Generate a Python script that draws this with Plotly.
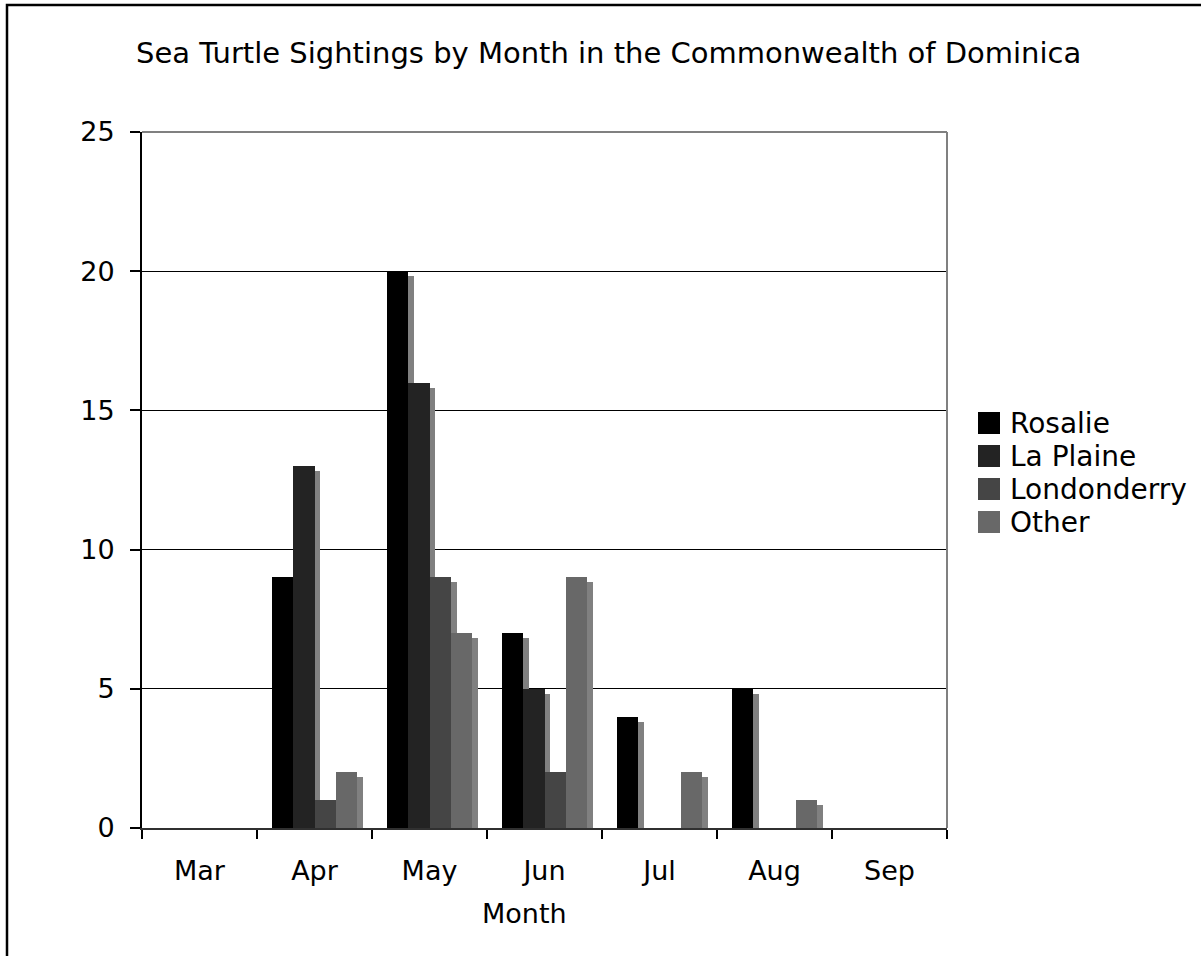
import plotly.graph_objects as go

# ── data ──────────────────────────────────────────────────────────────
MONTHS = ["Mar", "Apr", "May", "Jun", "Jul", "Aug", "Sep"]
SERIES = ["Rosalie", "La Plaine", "Londonderry", "Other"]
ROSALIE = [0, 9, 20, 7, 4, 5, 0]
LA_PLAINE = [0, 13, 16, 5, 0, 0, 0]
LONDONDERRY = [0, 1, 9, 2, 0, 0, 0]
OTHER = [0, 2, 7, 9, 2, 1, 0]
Y_TICKS = [0, 5, 10, 15, 20, 25]

# ── style ─────────────────────────────────────────────────────────────
COLORS = ["#000000", "#232323", "#454545", "#686868"]
SHADOW = "#808080"
FONT = "DejaVu Sans, Verdana, sans-serif"
W, H = 1201, 956
L, R, T, B = 142, 947, 132, 828          # plot area in pixels

BAR_W = 0.185                              # category units
GROUP_LEFT = -0.37
SHADOW_DX = 0.052
SHADOW_DROP = 0.18                         # y units


def px_x(px):
    return (px - L) / (R - L)


def px_y(py):
    return (B - py) / (B - T)


values = [ROSALIE, LA_PLAINE, LONDONDERRY, OTHER]
fig = go.Figure()

# shadows first so they sit behind every bar
for k, (name, vals) in enumerate(zip(SERIES, values)):
    fig.add_trace(go.Bar(
        x=MONTHS, y=vals, base=-SHADOW_DROP,
        width=BAR_W, offset=GROUP_LEFT + k * BAR_W + SHADOW_DX,
        marker=dict(color=SHADOW, line=dict(width=0)),
        showlegend=False, hoverinfo="skip",
    ))

for k, (name, vals) in enumerate(zip(SERIES, values)):
    fig.add_trace(go.Bar(
        x=MONTHS, y=vals, name=name,
        width=BAR_W, offset=GROUP_LEFT + k * BAR_W,
        marker=dict(color=COLORS[k], line=dict(width=0)),
        showlegend=False,
    ))

shapes = [
    # outer frame (runs off the right and bottom of the picture)
    dict(type="rect", xref="paper", yref="paper",
         x0=px_x(7), x1=px_x(W + 40), y0=px_y(H + 40), y1=px_y(5),
         line=dict(color="black", width=2.5), fillcolor="rgba(0,0,0,0)", layer="below"),
    # grey top and right edges of the plot area
    dict(type="line", xref="paper", yref="paper", x0=0, x1=1, y0=1, y1=1,
         line=dict(color=SHADOW, width=2)),
    dict(type="line", xref="paper", yref="paper", x0=1, x1=1, y0=0, y1=1,
         line=dict(color=SHADOW, width=2)),
]

annotations = [
    dict(text="Sea Turtle Sightings by Month in the Commonwealth of Dominica",
         xref="paper", yref="paper", x=px_x(608), y=px_y(53),
         xanchor="center", yanchor="middle",
         showarrow=False, font=dict(size=29, color="black")),
    dict(text="Month", xref="paper", yref="paper", x=px_x(524), y=px_y(913),
         xanchor="center", yanchor="middle",
         showarrow=False, font=dict(size=27, color="black")),
]

# hand-drawn legend with big square keys
for k, name in enumerate(SERIES):
    cy = 423 + k * 33
    shapes.append(dict(type="rect", xref="paper", yref="paper",
                       x0=px_x(978), x1=px_x(1000), y0=px_y(cy + 11), y1=px_y(cy - 11),
                       fillcolor=COLORS[k], line=dict(width=0)))
    annotations.append(dict(text=name, xref="paper", yref="paper",
                            x=px_x(1008), y=px_y(cy), xanchor="left", yanchor="middle",
                            showarrow=False, font=dict(size=28, color="black")))

fig.update_layout(
    width=W, height=H,
    margin=dict(l=L, r=W - R, t=T, b=H - B, pad=0),
    paper_bgcolor="white", plot_bgcolor="white",
    font=dict(family=FONT, size=27, color="black"),
    barmode="overlay", bargap=0,
    showlegend=False,
    shapes=shapes, annotations=annotations,
)
fig.update_xaxes(
    type="category", range=[-0.5, 6.5],
    tickson="boundaries", ticks="outside", ticklen=9, tickcolor="black", tickwidth=1.5,
    ticklabelstandoff=18,
    showline=True, linecolor="#303030", linewidth=2,
    showgrid=False, zeroline=False,
    tickfont=dict(size=27),
)
fig.update_yaxes(
    range=[0, 25], tickvals=Y_TICKS,
    ticks="outside", ticklen=10, tickcolor="black", tickwidth=1.5,
    ticklabelstandoff=10,
    showline=True, linecolor="black", linewidth=2,
    showgrid=True, gridcolor="black", gridwidth=1,
    zeroline=False, tickfont=dict(size=27),
)

# drop the browser's default 8px body margin so the page lines up at (0, 0)
fig.write_html("out.html", config={"displayModeBar": False},
               post_script="document.body.style.margin='0';")
